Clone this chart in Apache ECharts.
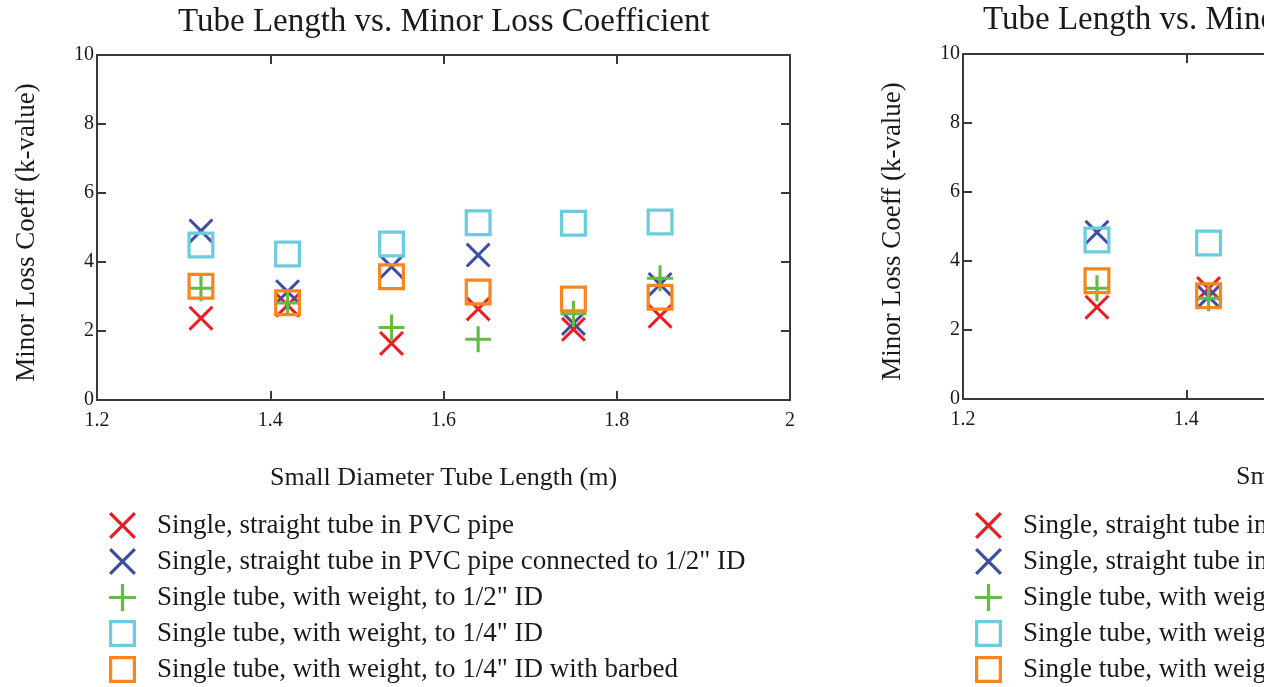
<!DOCTYPE html>
<html>
<head>
<meta charset="utf-8">
<title>Tube Length vs. Minor Loss Coefficient</title>
<script src="https://cdn.jsdelivr.net/npm/echarts@6/dist/echarts.min.js"></script>
<style>
  html, body { margin: 0; padding: 0; background: #ffffff; }
  #chart { width: 1264px; height: 687px; }
</style>
</head>
<body>
<div id="chart"></div>
<script>
// Tube lengths tested (m)
const tubeLengths = [1.32, 1.42, 1.54, 1.64, 1.75, 1.85];
const tubeLengthsB = [1.32, 1.42];

// Series names
const seriesNames = [
  'Single, straight tube in PVC pipe',
  'Single, straight tube in PVC pipe connected to 1/2" ID',
  'Single tube, with weight, to 1/2" ID',
  'Single tube, with weight, to 1/4" ID',
  'Single tube, with weight, to 1/4" ID with barbed'
];

// First panel: minor loss coefficients (k-value)
const straightPVC         = [2.37, 2.75, 1.64, 2.64, 2.05, 2.43];
const straightPVCHalf     = [4.90, 3.14, 3.86, 4.20, 2.22, 3.35];
const weightHalf          = [3.24, 2.81, 2.10, 1.76, 2.50, 3.53];
const weightQuarter       = [4.49, 4.23, 4.52, 5.14, 5.12, 5.16];
const weightQuarterBarbed = [3.30, 2.82, 3.57, 3.13, 2.93, 2.98];

// Second panel: minor loss coefficients (k-value)
const straightPVCB         = [2.66, 3.20];
const straightPVCHalfB     = [4.83, 2.97];
const weightHalfB          = [3.21, 2.92];
const weightQuarterB       = [4.61, 4.52];
const weightQuarterBarbedB = [3.43, 2.99];

// Axis ticks
const xTicks = [1.2, 1.4, 1.6, 1.8, 2];
const yTicks = [0, 2, 4, 6, 8, 10];

const titleText = 'Tube Length vs. Minor Loss Coefficient';
const xName = 'Small Diameter Tube Length (m)';
const yName = 'Minor Loss Coeff (k-value)';

const FONT = "'Liberation Serif', 'Times New Roman', serif";
const INK = '#1a1a1a';
const AXIS = '#3a3a3a';

const colors = ['#ed1c24', '#3c4fa3', '#67bb45', '#6ccbdc', '#f7861f'];

// Marker outlines drawn as filled shapes in a 100x100 box
const SYM_X = 'path://M0 8.5L8.5 0L50 41.5L91.5 0L100 8.5L58.5 50L100 91.5L91.5 100L50 58.5L8.5 100L0 91.5L41.5 50Z';
const SYM_PLUS = 'path://M44 0H56V44H100V56H56V100H44V56H0V44H44Z';
const SYM_BOX = 'path://M0 0H100V100H0ZM12 12V88H88V12Z';
const symbols = [SYM_X, SYM_X, SYM_PLUS, SYM_BOX, SYM_BOX];
const sizes = [25, 25, 26, 27, 27];

const panelA = [straightPVC, straightPVCHalf, weightHalf, weightQuarter, weightQuarterBarbed];
const panelB = [straightPVCB, straightPVCHalfB, weightHalfB, weightQuarterB, weightQuarterBarbedB];

function pairs(xs, ys) { return xs.map((x, i) => [x, ys[i]]); }

const tickLabelStyle = { fontFamily: FONT, fontSize: 20, color: INK };
const lineStyle = { color: AXIS, width: 2 };

function xAxes(grid) {
  return [
    {
      gridIndex: grid, type: 'value', position: 'bottom',
      min: xTicks[0], max: xTicks[xTicks.length - 1], interval: 0.2,
      name: xName, nameLocation: 'middle', nameGap: 65,
      nameTextStyle: { fontFamily: FONT, fontSize: 26, color: INK },
      axisLine: { show: true, lineStyle: lineStyle },
      axisTick: { show: true, inside: true, length: 9, lineStyle: lineStyle },
      axisLabel: { margin: 11, ...tickLabelStyle, formatter: v => String(+v.toFixed(1)) },
      splitLine: { show: false }
    },
    {
      gridIndex: grid, type: 'value', position: 'top',
      min: xTicks[0], max: xTicks[xTicks.length - 1], interval: 0.2,
      axisLine: { show: true, onZero: false, lineStyle: lineStyle },
      axisTick: { show: true, inside: true, length: 9, lineStyle: lineStyle },
      axisLabel: { show: false },
      splitLine: { show: false }
    }
  ];
}

function yAxes(grid) {
  return [
    {
      gridIndex: grid, type: 'value', position: 'left',
      min: yTicks[0], max: yTicks[yTicks.length - 1], interval: 2,
      name: yName, nameLocation: 'middle', nameGap: 57, nameRotate: 90,
      nameTextStyle: { fontFamily: FONT, fontSize: 27, color: INK, padding: [0, 10, 0, 0] },
      axisLine: { show: true, onZero: false, lineStyle: lineStyle },
      axisTick: { show: true, inside: true, length: 9, lineStyle: lineStyle },
      axisLabel: { margin: 3, ...tickLabelStyle },
      splitLine: { show: false }
    },
    {
      gridIndex: grid, type: 'value', position: 'right',
      min: yTicks[0], max: yTicks[yTicks.length - 1], interval: 2,
      axisLine: { show: true, onZero: false, lineStyle: lineStyle },
      axisTick: { show: true, inside: true, length: 9, lineStyle: lineStyle },
      axisLabel: { show: false },
      splitLine: { show: false }
    }
  ];
}

function scatterSeries(panel, xs, xIdx, yIdx) {
  return panel.map((ys, i) => ({
    name: seriesNames[i],
    type: 'scatter',
    xAxisIndex: xIdx,
    yAxisIndex: yIdx,
    symbol: symbols[i],
    symbolSize: sizes[i],
    itemStyle: { color: colors[i], opacity: 1 },
    emphasis: { disabled: true },
    data: pairs(xs, ys),
    z: 2 + i
  }));
}

function legendAt(left) {
  return {
    orient: 'vertical',
    left: left,
    top: 507,
    height: 200,
    itemWidth: 27,
    itemHeight: 27,
    itemGap: 9,
    selectedMode: false,
    data: seriesNames.map((n, i) => ({ name: n, icon: symbols[i] })),
    textStyle: { fontFamily: FONT, fontSize: 27, color: INK, lineHeight: 27, padding: [0, 0, 0, 16] }
  };
}

const chart = echarts.init(document.getElementById('chart'), null, { renderer: 'canvas' });

chart.setOption({
  backgroundColor: '#ffffff',
  animation: false,
  title: [
    { text: titleText, left: 178, top: 6, padding: 0,
      textStyle: { fontFamily: FONT, fontSize: 33, fontWeight: 'normal', color: INK } },
    { text: titleText, left: 983, top: 4, padding: 0,
      textStyle: { fontFamily: FONT, fontSize: 33, fontWeight: 'normal', color: INK } }
  ],
  grid: [
    { left: 97, top: 55, width: 693, height: 345, containLabel: false, outerBoundsMode: 'none' },
    { left: 963, top: 54, width: 893, height: 345, containLabel: false, outerBoundsMode: 'none' }
  ],
  xAxis: [...xAxes(0), ...xAxes(1)],
  yAxis: [...yAxes(0), ...yAxes(1)],
  legend: [legendAt(104), legendAt(970)],
  series: [
    ...scatterSeries(panelA, tubeLengths, 0, 0),
    ...scatterSeries(panelB, tubeLengthsB, 2, 2)
  ]
});
</script>
</body>
</html>
